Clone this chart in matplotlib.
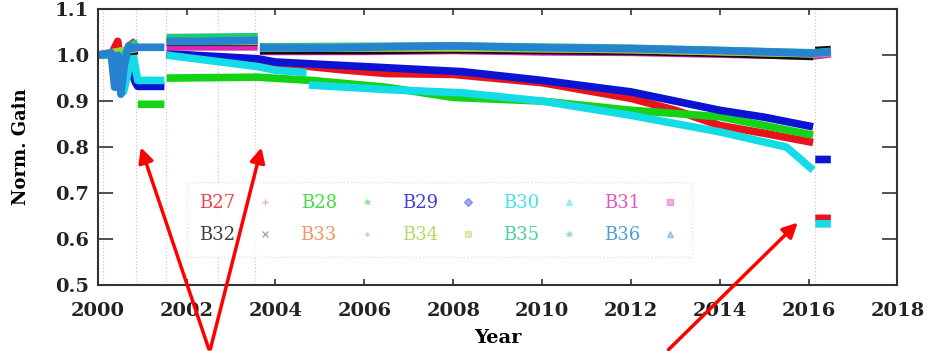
import numpy as np
import matplotlib
matplotlib.use("Agg")
import matplotlib.pyplot as plt
from matplotlib.lines import Line2D

nan = np.nan

# gain per detector band (nan = gap at a jump)
b27_year = [2000.0, 2000.3, 2000.45, 2000.55, 2000.7, 2000.85, nan, 2001.55, 2003.6, 2004.0, 2005.5, 2006.5,
            2008.0, 2010.0, 2012.0, 2013.0, 2014.0, 2015.0, 2016.1, nan, 2016.15, 2016.5]
b27_gain = [1.0, 1.0, 1.03, 0.96, 1.02, 1.03, nan, 1.002, 0.99, 0.983, 0.968, 0.96,
            0.958, 0.94, 0.906, 0.88, 0.847, 0.83, 0.81, nan, 0.645, 0.645]

b28_year = [2000.0, 2000.3, 2000.5, 2000.7, 2000.85, nan, 2000.9, 2001.5, nan, 2001.55, 2003.6, 2004.8,
            2006.5, 2008.0, 2010.0, 2012.0, 2014.0, 2016.1, nan, 2016.15, 2016.5]
b28_gain = [1.0, 1.0, 0.97, 1.02, 1.025, nan, 0.893, 0.893, nan, 0.95, 0.952, 0.945,
            0.93, 0.908, 0.9, 0.88, 0.866, 0.826, nan, 1.005, 1.005]

b29_year = [2000.0, 2000.3, 2000.4, 2000.55, 2000.7, 2000.85, 2000.9, 2001.5, nan, 2001.55, 2003.6, 2004.0,
            2006.0, 2008.2, 2010.0, 2012.0, 2013.0, 2014.0, 2015.0, 2016.1, nan, 2016.15, 2016.5]
b29_gain = [1.0, 1.0, 0.96, 0.93, 0.98, 0.94, 0.932, 0.932, nan, 1.003, 0.992, 0.985,
            0.975, 0.964, 0.945, 0.92, 0.9, 0.88, 0.865, 0.844, nan, 0.773, 0.773]

b30_year = [2000.0, 2000.3, 2000.4, 2000.5, 2000.58, 2000.7, 2000.8, 2000.9, 2001.5, nan, 2001.55, 2003.6,
            2004.0, 2004.7, nan, 2004.75, 2006.5, 2008.2, 2010.0, 2012.0, 2014.0, 2015.5, 2016.1, nan, 2016.15, 2016.5]
b30_gain = [1.0, 1.0, 0.95, 0.99, 0.92, 0.97, 1.0, 0.945, 0.945, nan, 1.0, 0.975,
            0.967, 0.962, nan, 0.935, 0.925, 0.918, 0.9, 0.869, 0.833, 0.8, 0.75, nan, 0.633, 0.633]

b31_year = [2000.0, 2000.9, nan, 2001.55, 2003.6, nan, 2003.65, 2006.0, 2008.0, 2010.0, 2012.0, 2014.0, 2016.1, 2016.5]
b31_gain = [1.0, 1.01, nan, 1.018, 1.018, nan, 1.008, 1.008, 1.01, 1.007, 1.006, 1.002, 0.998, 1.003]

b32_year = [2000.0, 2000.9, nan, 2001.55, 2003.6, nan, 2003.65, 2006.0, 2008.0, 2010.0, 2012.0, 2014.0, 2016.1, nan, 2016.15, 2016.5]
b32_gain = [1.0, 1.01, nan, 1.028, 1.028, nan, 1.01, 1.01, 1.012, 1.01, 1.008, 1.004, 0.997, nan, 1.01, 1.012]

b33_year = [2000.0, 2000.9, nan, 2001.55, 2003.6, nan, 2003.65, 2008.0, 2012.0, 2016.1, 2016.5]
b33_gain = [1.0, 1.015, nan, 1.03, 1.03, nan, 1.015, 1.016, 1.012, 1.003, 1.006]

b34_year = [2000.0, 2000.9, nan, 2001.55, 2003.6, nan, 2003.65, 2008.0, 2012.0, 2016.1, 2016.5]
b34_gain = [1.0, 1.015, nan, 1.03, 1.03, nan, 1.015, 1.016, 1.012, 1.003, 1.006]

b35_year = [2000.0, 2000.3, 2000.55, 2000.7, 2000.9, nan, 2001.55, 2003.6, nan, 2003.65, 2008.0, 2012.0, 2016.1, 2016.5]
b35_gain = [1.0, 1.0, 0.99, 1.02, 1.027, nan, 1.038, 1.04, nan, 1.018, 1.02, 1.015, 1.005, 1.008]

b36_year = [2000.0, 2000.3, 2000.38, 2000.45, 2000.52, 2000.6, 2000.7, 2000.8, 2000.9, 2001.5, nan,
            2001.55, 2002.5, 2003.6, nan, 2003.65, 2005.0, 2006.5, 2008.0, 2010.0, 2012.0, 2014.0, 2016.1, 2016.5]
b36_gain = [1.0, 1.005, 0.93, 1.0, 0.915, 0.98, 1.02, 1.015, 1.017, 1.017, nan,
            1.03, 1.03, 1.032, nan, 1.016, 1.015, 1.018, 1.02, 1.016, 1.014, 1.01, 1.004, 1.007]

labels = ["B27", "B28", "B29", "B30", "B31", "B32", "B33", "B34", "B35", "B36"]
colors = ["#e8141c", "#14d214", "#0a14d2", "#14dce6", "#dc28b4",
          "#101010", "#f0783c", "#a0d23c", "#1ec878", "#2882d2"]
symbols = ["+", "*", "D", "^", "s", "x", ".", "s", "*", "^"]
years = [b27_year, b28_year, b29_year, b30_year, b31_year, b32_year, b33_year, b34_year, b35_year, b36_year]
gains = [b27_gain, b28_gain, b29_gain, b30_gain, b31_gain, b32_gain, b33_gain, b34_gain, b35_gain, b36_gain]

# instrument events (dotted vertical lines)
event_years = [2000.11, 2000.86, 2001.53, 2002.7, 2003.54, 2016.15]

serif = "DejaVu Serif"

fig = plt.figure(figsize=(9.31, 3.51), dpi=100)
ax = fig.add_axes([0.105, 0.188, 0.859, 0.786])

for yr in event_years:
    ax.axvline(yr, color="#d9c4cc", lw=0.9, ls=":", zorder=1)

for yr, g, c in zip(years, gains, colors):
    ax.plot(yr, g, color=c, lw=5.5, solid_capstyle="butt", zorder=2)

ax.set_xlim(2000, 2018)
ax.set_ylim(0.5, 1.1)
ax.set_xticks(np.arange(2000, 2019, 2))
ax.set_yticks(np.arange(0.5, 1.11, 0.1))
ax.yaxis.set_major_formatter(plt.FormatStrFormatter("%.1f"))
ax.tick_params(axis="x", direction="in", length=4, width=1.2, top=True, pad=12, colors="#333333")
ax.tick_params(axis="y", direction="in", length=11, width=1.2, right=True, pad=6, colors="#333333")
for lab in ax.get_xticklabels() + ax.get_yticklabels():
    lab.set_family(serif)
    lab.set_fontweight("bold")
    lab.set_fontsize(14)
    lab.set_color("#222222")
for sp in ax.spines.values():
    sp.set_linewidth(1.5)
    sp.set_color("#333333")

ax.set_xlabel("Year", family=serif, fontweight="bold", fontsize=14, labelpad=7)
ax.set_ylabel("Norm. Gain", family=serif, fontweight="bold", fontsize=13, labelpad=18)

# legend: text first, faint symbol after; filled row-wise
handles = [Line2D([], [], ls="none", marker=m, color=c, alpha=0.35, markersize=4)
           for m, c in zip(symbols, colors)]
order = [0, 5, 1, 6, 2, 7, 3, 8, 4, 9]
leg = ax.legend([handles[i] for i in order], [labels[i] for i in order], ncol=5,
                markerfirst=False, loc="lower left", bbox_to_anchor=(0.1, 0.07),
                frameon=True, fancybox=False, handlelength=1.0,
                handletextpad=1.15, columnspacing=1.45, labelspacing=0.75, borderpad=0.7,
                prop={"family": serif, "size": 13})
leg.get_frame().set_edgecolor("#dddddd")
leg.get_frame().set_linestyle(":")
for txt, i in zip(leg.get_texts(), order):
    txt.set_color(colors[i])
    txt.set_alpha(0.8)

# arrows pointing to the gain jumps, drawn above the legend
arrow = dict(arrowstyle="-|>", color="#ff0000", lw=2.5, mutation_scale=22)
for tip, tail in [((2000.95, 0.805), (2002.52, 0.355)),
                  ((2003.7, 0.805), (2002.52, 0.355)),
                  ((2015.8, 0.64), (2012.8, 0.355))]:
    ax.annotate("", xy=tip, xytext=tail, arrowprops=arrow,
                annotation_clip=False, zorder=10)

# title, mostly cut off by the top edge
fig.text(0.698, 1.022, "(Normalized to Mean gain, B27-B36)", ha="center", va="baseline",
         family=serif, fontweight="bold", fontsize=14, color="#333333")

fig.savefig("out.png", dpi=100)
